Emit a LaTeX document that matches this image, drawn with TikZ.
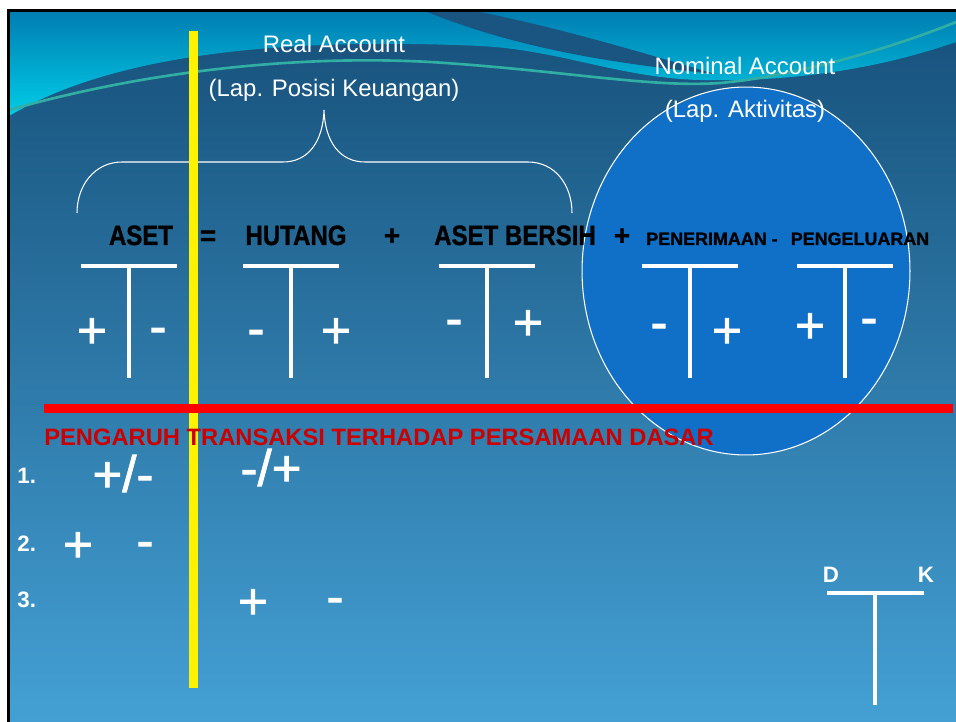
\documentclass[tikz,border=0pt]{standalone}
\usepackage{fontspec}
\setmainfont{Liberation Sans}
\newfontfamily\signfamily{Liberation Sans}[FakeBold=1.6]
\newfontfamily\acctfamily{Liberation Sans}[FakeBold=1.2,BoldFont={* Bold}]
\usepackage{graphicx}
\usetikzlibrary{shapes.geometric}
\definecolor{bgtop}{RGB}{22,80,122}
\definecolor{bgbot}{RGB}{68,160,212}
\definecolor{wavetop}{RGB}{0,125,178}
\definecolor{wavebot}{RGB}{0,205,230}
\definecolor{wavedark}{RGB}{25,85,128}
\definecolor{waveline}{RGB}{50,175,165}
\definecolor{nomblue}{RGB}{16,111,198}
\definecolor{titlered}{RGB}{204,0,0}
\definecolor{barred}{RGB}{255,0,0}
\tikzstyle{tline} = [draw=white,line width=2.3pt]
\tikzstyle{sign} = [text=white,font=\signfamily\fontsize{29}{30}\selectfont,inner sep=0pt,text height=19pt,text depth=0pt]
\tikzstyle{acct} = [font=\acctfamily\fontsize{15.9}{17}\selectfont\bfseries,anchor=base,inner sep=0pt]
\tikzstyle{acctsmall} = [font=\acctfamily\fontsize{10.2}{12}\selectfont\bfseries,anchor=base,inner sep=0pt]
\tikzstyle{heading} = [text=white,font=\fontsize{13.6}{15}\selectfont,anchor=base,inner sep=0pt]
\tikzstyle{number} = [text=white,font=\fontsize{12.7}{14}\selectfont\bfseries,anchor=base west,inner sep=0pt]
\tikzstyle{brace} = [draw=white,line width=0.6pt]

\begin{document}
\begin{tikzpicture}[x=0.02cm,y=-0.02cm]

	\def\ty{266};
	\def\by{378};
	\def\hw{48};

% slide
   \useasboundingbox (0,0) rectangle (956,722);
   \fill[white] (0,0) rectangle (956,722);
   \shade[top color=bgtop, bottom color=bgbot] (9,11) rectangle (956,722);
   \shade[top color=wavetop, bottom color=wavebot] (9,11) -- (956,11) -- (956,42) .. controls (870,72) and (780,82) .. (700,80) .. controls (620,78) and (560,50) .. (480,46) .. controls (300,38) and (120,50) .. (9,116) -- cycle;
   \fill[wavedark] (425,11) -- (475,11) .. controls (560,28) and (640,52) .. (715,74) .. controls (620,64) and (520,50) .. (425,11) -- cycle;
   \draw[waveline, line width=1.5pt] (9,110) .. controls (150,70) and (300,55) .. (430,62) .. controls (560,70) and (650,88) .. (720,83) .. controls (800,76) and (900,45) .. (956,22);
   \draw[black, line width=1.5pt] (8.5,723) -- (8.5,10.5) -- (957,10.5);

% Label
   \node[heading] (real) at (334,53) {Real Account};
   \node[heading] (reallap) at (334,97) {(Lap. Posisi Keuangan)};

   \draw[brace] (77,213) .. controls (77,185) and (95,162) .. (122,162) -- (283,162) .. controls (308,162) and (323,142) .. (324,110) .. controls (325,142) and (340,162) .. (365,162) -- (528,162) .. controls (555,162) and (572,185) .. (572,213);

   \node[ellipse, draw=white, line width=0.6pt, fill=nomblue, minimum width=6.56cm, minimum height=7.36cm, inner sep=0pt] (nomcirc) at (746,271) {};

   \node[heading] (nominal) at (745,75) {Nominal Account};
   \node[heading] (nominallap) at (745,118) {(Lap. Aktivitas)};

%equation
   \node[acct] (aset) at (141,245) {\scalebox{0.86}[1]{ASET}};
   \node[acct] (eq) at (208,245) {=};
   \node[acct] (hutang) at (296,245) {\scalebox{0.86}[1]{HUTANG}};
   \node[acct] (plusa) at (392,245) {+};
   \node[acct] (bersih) at (515,245) {\scalebox{0.86}[1]{ASET BERSIH}};
   \node[acct] (plusb) at (622,245) {+};
   \node[acctsmall] (terima) at (712,245) {PENERIMAAN -};
   \node[acctsmall] (keluar) at (860,245) {PENGELUARAN};

%T accounts
    \foreach \cx/\name in {129/tA, 291/tB, 487/tC, 690/tD, 845/tE}
    {
        \coordinate (\name L) at (\cx-\hw,\ty);
        \coordinate (\name R) at (\cx+\hw,\ty);
        \coordinate (\name T) at (\cx,\ty);
        \coordinate (\name B) at (\cx,\by);
        \draw[tline] (\name L) -- (\name R) (\name T) -- (\name B);
    }

%signs
    \foreach \pos/\name/\label in {{(92,331)/tAd/+}, {(158,327)/tAk/-}, {(256,329)/tBd/-}, {(336,331)/tBk/+},
        {(454,319)/tCd/-}, {(528,323)/tCk/+}, {(659,323)/tDd/-}, {(727,331)/tDk/+}, {(810,326)/tEd/+}, {(869,318)/tEk/-}}
        \node[sign] (\name) at \pos {\label};

%yellow bar
   \coordinate (barT) at (193.5,31);
   \coordinate (barB) at (193.5,688);
   \draw[yellow, line width=5.1pt] (barT) -- (barB);

%red line
   \coordinate (redL) at (44,408.5);
   \coordinate (redR) at (953,408.5);
   \draw[barred, line width=5.1pt] (redL) -- (redR);

   \node[anchor=base west, inner sep=0pt, text=titlered, font=\fontsize{13.5}{15}\selectfont\bfseries] (judul) at (44,445) {PENGARUH TRANSAKSI TERHADAP PERSAMAAN DASAR};

%transaksi
   \node[number] (n1) at (17,483) {1.};
   \node[number] (n2) at (17,551) {2.};
   \node[number] (n3) at (17,607) {3.};

   \node[sign] (s1a) at (123,475) {+/-};
   \node[sign] (s1b) at (271,469) {-/+};
   \node[sign] (s2a) at (78,545) {+};
   \node[sign] (s2b) at (145,541) {-};
   \node[sign] (s3a) at (253,602) {+};
   \node[sign] (s3b) at (335,597) {-};

%D K
   \node[number, anchor=base] (debit) at (831,582) {D};
   \node[number, anchor=base] (kredit) at (926,582) {K};
   \coordinate (dkL) at (827,593);
   \coordinate (dkR) at (924,593);
   \coordinate (dkT) at (875,593);
   \coordinate (dkB) at (875,705);
   \draw[tline] (dkL) -- (dkR) (dkT) -- (dkB);

\end{tikzpicture}
\end{document}
